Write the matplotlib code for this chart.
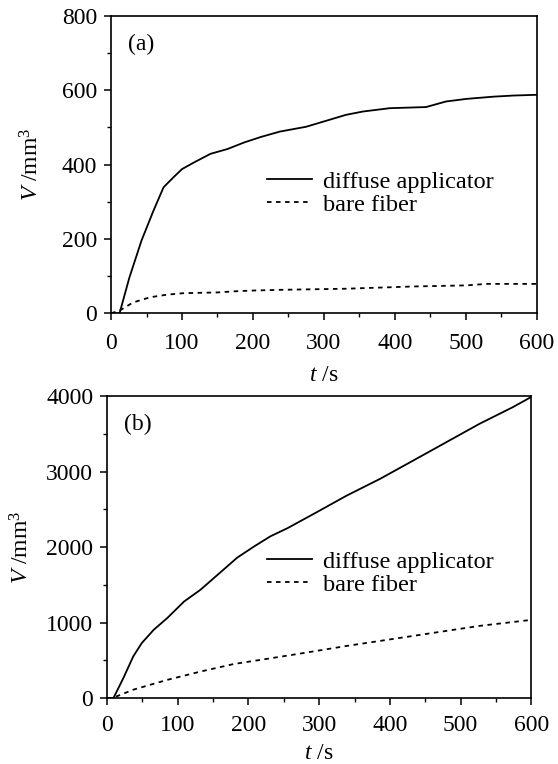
import numpy as np
import matplotlib
matplotlib.use("Agg")
import matplotlib.pyplot as plt
from matplotlib.ticker import MultipleLocator

plt.rcParams['font.family'] = ['Liberation Serif', 'DejaVu Serif']
plt.rcParams['mathtext.fontset'] = 'custom'
plt.rcParams['mathtext.rm'] = 'Liberation Serif'
plt.rcParams['mathtext.it'] = 'Liberation Serif:italic'

# (a) valores
t_a_dif = [0, 12, 26, 43, 60, 74, 88, 100, 117, 140, 164, 188, 212, 238,
           275, 331, 355, 393, 444, 472, 501, 539, 567, 600]
v_a_dif = [0, 0, 97, 196, 277, 339, 366, 388, 406, 429, 442, 460, 475, 489,
           502, 534, 543, 552, 555, 570, 577, 583, 586, 588]
t_a_bare = [0, 12, 31, 55, 79, 102, 126, 150, 174, 198, 238, 331, 425, 501, 529, 600]
v_a_bare = [0, 7, 29, 43, 50, 54, 55, 56, 59, 61, 63, 66, 72, 75, 79, 79]

# (b)
t_b_dif = [0, 9, 23, 37, 49, 66, 85, 109, 132, 159, 184, 208, 231, 255,
           292, 339, 386, 433, 480, 527, 574, 600]
v_b_dif = [0, 0, 265, 552, 728, 905, 1059, 1280, 1434, 1655, 1860, 2009, 2143, 2250,
           2439, 2683, 2904, 3147, 3391, 3635, 3855, 3990]
t_b_bare = [0, 8, 13, 37, 85, 132, 179, 227, 274, 339, 433, 527, 600]
v_b_bare = [0, 0, 20, 110, 240, 350, 450, 520, 590, 690, 823, 956, 1035]

labels = ['diffuse applicator', 'bare fiber']

fig = plt.figure(figsize=(5.58, 7.64), dpi=100)
ax1 = fig.add_axes([0.199, 0.590, 0.763, 0.389])
ax2 = fig.add_axes([0.192, 0.0864, 0.760, 0.395])


def estilo(ax, ymax, ymaj, ymin, tag, leg_xy, xpad, xlpad, ylpad):
    ax.set_xlim(0, 600)
    ax.set_ylim(0, ymax)
    ax.xaxis.set_major_locator(MultipleLocator(100))
    ax.xaxis.set_minor_locator(MultipleLocator(50))
    ax.yaxis.set_major_locator(MultipleLocator(ymaj))
    ax.yaxis.set_minor_locator(MultipleLocator(ymin))
    ax.tick_params(which='major', direction='out', length=5, width=1.1,
                   labelsize=17, top=False, right=False)
    ax.tick_params(axis='x', which='major', pad=xpad)
    ax.tick_params(axis='y', which='major', pad=5)
    ax.tick_params(which='minor', direction='out', length=3, width=1.0,
                   top=False, right=False)
    for s in ax.spines.values():
        s.set_linewidth(1.2)
    ax.set_xlabel('$t$ /s', fontsize=17, labelpad=xlpad)
    ax.set_ylabel('$V$ /mm$^3$', fontsize=17, labelpad=ylpad)
    ax.text(0.04, 0.905, tag, transform=ax.transAxes, fontsize=17,
            ha='left', va='center')
    ax.legend(labels, loc='upper left', bbox_to_anchor=leg_xy, frameon=False,
              fontsize=17.5, handlelength=1.85, handletextpad=0.45,
              labelspacing=0.05, borderpad=0, borderaxespad=0)


ax1.plot(t_a_dif, v_a_dif, color='black', lw=1.3, ls='-')
ax1.plot(t_a_bare, v_a_bare, color='black', lw=1.3, ls=(0, (2.5, 2.5)))
estilo(ax1, 800, 200, 100, '(a)', (0.366, 0.48), 9, 8, 13)

ax2.plot(t_b_dif, v_b_dif, color='black', lw=1.3, ls='-')
ax2.plot(t_b_bare, v_b_bare, color='black', lw=1.3, ls=(0, (2.5, 2.5)))
estilo(ax2, 4000, 1000, 500, '(b)', (0.377, 0.488), 7, 5, 9)

fig.savefig('out.png', dpi=100)
